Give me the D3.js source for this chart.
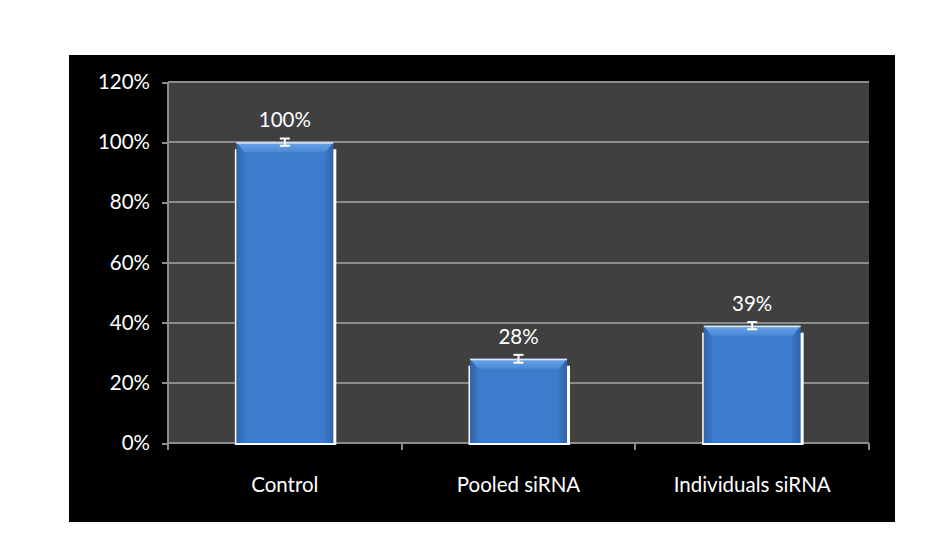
<!DOCTYPE html>
<html lang="en">
<head>
<meta charset="utf-8">
<title>siRNA knockdown</title>
<script src="https://cdn.jsdelivr.net/npm/d3@7"></script>
<style>
    body {margin: 0; background: white;}
    svg {display: block;}
    .axis text {font-family: Lato, "Open Sans", sans-serif; font-size: 20.5px; fill: white;}
    .axis path, .axis line {stroke: #8c8c8c; stroke-width: 2; shape-rendering: crispEdges;}
</style>
</head>
<body>
<script>
// chart data
var categories = ["Control", "Pooled siRNA", "Individuals siRNA"];
var values = [100, 28, 39];
var errors = [1.2, 1.3, 1.2];
var yTicks = [0, 20, 40, 60, 80, 100, 120];

var w = 943, h = 533;
var frame = {x: 69, y: 55, w: 826, h: 467};
var plot = {left: 168, right: 869, top: 82, bottom: 443};

var svg = d3.select("body").append("svg")
    .attr("width", w)
    .attr("height", h);

// gradients for the bars
var defs = svg.append("defs");
var grad = defs.append("linearGradient").attr("id", "barFill")
    .attr("x1", 0).attr("y1", 0).attr("x2", 1).attr("y2", 0);
grad.append("stop").attr("offset", "0%").attr("stop-color", "#2f63a8");
grad.append("stop").attr("offset", "10%").attr("stop-color", "#3d7bcc");
grad.append("stop").attr("offset", "90%").attr("stop-color", "#3d7bcc");
grad.append("stop").attr("offset", "100%").attr("stop-color", "#2f63a8");

var topGrad = defs.append("linearGradient").attr("id", "topFill")
    .attr("x1", 0).attr("y1", 0).attr("x2", 0).attr("y2", 1);
topGrad.append("stop").attr("offset", "0%").attr("stop-color", "#6aa6ea");
topGrad.append("stop").attr("offset", "100%").attr("stop-color", "#4a88d6");

// black frame
svg.append("rect")
    .attr("x", frame.x).attr("y", frame.y)
    .attr("width", frame.w).attr("height", frame.h)
    .attr("fill", "black");

// plot area
svg.append("rect")
    .attr("x", plot.left).attr("y", plot.top)
    .attr("width", plot.right - plot.left).attr("height", plot.bottom - plot.top)
    .attr("fill", "#404040");

// scales
var xScale = d3.scaleBand()
    .domain(categories)
    .range([plot.left, plot.right])
    .paddingInner(0)
    .paddingOuter(0);

var yScale = d3.scaleLinear()
    .domain([0, 120])
    .range([plot.bottom, plot.top]);

// gridlines
svg.append("g").selectAll("line")
    .data(yTicks.slice(1))
    .enter().append("line")
    .attr("x1", plot.left).attr("x2", plot.right)
    .attr("y1", function(d) { return yScale(d); })
    .attr("y2", function(d) { return yScale(d); })
    .attr("stroke", "#8c8c8c")
    .attr("stroke-width", 2)
    .attr("shape-rendering", "crispEdges");

// y axis
var yAxis = d3.axisLeft(yScale)
    .tickValues(yTicks)
    .tickFormat(function(d) { return d + "%"; })
    .tickSize(6)
    .tickPadding(12);

svg.append("g")
    .attr("class", "axis")
    .attr("transform", "translate(" + plot.left + ",0)")
    .call(yAxis)
    .call(function(g) { g.select(".domain").attr("d", "M0," + plot.top + "V" + plot.bottom); });

// x axis with ticks at category boundaries
var xAxisG = svg.append("g")
    .attr("class", "axis")
    .attr("transform", "translate(0," + plot.bottom + ")");

xAxisG.append("line")
    .attr("x1", plot.left).attr("x2", plot.right)
    .attr("y1", 0).attr("y2", 0);

var boundaries = categories.map(function(c) { return xScale(c); }).concat([plot.right]);
xAxisG.selectAll(".bt")
    .data(boundaries)
    .enter().append("line")
    .attr("class", "bt")
    .attr("x1", function(d) { return d; }).attr("x2", function(d) { return d; })
    .attr("y1", 0).attr("y2", 7);

xAxisG.selectAll(".cl")
    .data(categories)
    .enter().append("text")
    .attr("class", "cl")
    .attr("x", function(d) { return xScale(d) + xScale.bandwidth() / 2; })
    .attr("y", 49)
    .attr("text-anchor", "middle")
    .text(function(d) { return d; });

// bars
var barW = xScale.bandwidth() * 0.415;
var bars = svg.append("g").selectAll("g")
    .data(values)
    .enter().append("g")
    .attr("transform", function(d, i) {
        return "translate(" + (xScale(categories[i]) + xScale.bandwidth() / 2 - barW / 2) + ",0)";
    });

// white shadow edge
bars.append("rect")
    .attr("x", -1.5)
    .attr("y", function(d) { return yScale(d) + 7; })
    .attr("width", barW + 4.5)
    .attr("height", function(d) { return plot.bottom - yScale(d) - 5; })
    .attr("fill", "white");

bars.append("rect")
    .attr("x", 0)
    .attr("y", function(d) { return yScale(d); })
    .attr("width", barW)
    .attr("height", function(d) { return plot.bottom - yScale(d); })
    .attr("fill", "url(#barFill)");

// bevelled top
bars.append("path")
    .attr("d", function(d) {
        var t = yScale(d);
        return "M0," + t + "H" + barW + "L" + (barW - 8) + "," + (t + 10) + "H8Z";
    })
    .attr("fill", "url(#topFill)");

bars.append("rect")
    .attr("x", 0)
    .attr("y", function(d) { return yScale(d); })
    .attr("width", barW)
    .attr("height", 1.5)
    .attr("fill", "#dbe9fb");

// error bars
var errG = bars.append("g")
    .attr("stroke", "white")
    .attr("stroke-width", 2);
errG.append("line")
    .attr("x1", barW / 2).attr("x2", barW / 2)
    .attr("y1", function(d, i) { return yScale(d + errors[i]); })
    .attr("y2", function(d, i) { return yScale(d - errors[i]); });
errG.append("line")
    .attr("x1", barW / 2 - 5).attr("x2", barW / 2 + 5)
    .attr("y1", function(d, i) { return yScale(d + errors[i]); })
    .attr("y2", function(d, i) { return yScale(d + errors[i]); });
errG.append("line")
    .attr("x1", barW / 2 - 5).attr("x2", barW / 2 + 5)
    .attr("y1", function(d, i) { return yScale(d - errors[i]); })
    .attr("y2", function(d, i) { return yScale(d - errors[i]); });

// value labels
bars.append("text")
    .attr("x", barW / 2)
    .attr("y", function(d) { return yScale(d) - 15; })
    .attr("text-anchor", "middle")
    .attr("fill", "white")
    .style("font-family", "Lato, 'Open Sans', sans-serif")
    .style("font-size", "20.5px")
    .text(function(d) { return d + "%"; });
</script>
</body>
</html>
